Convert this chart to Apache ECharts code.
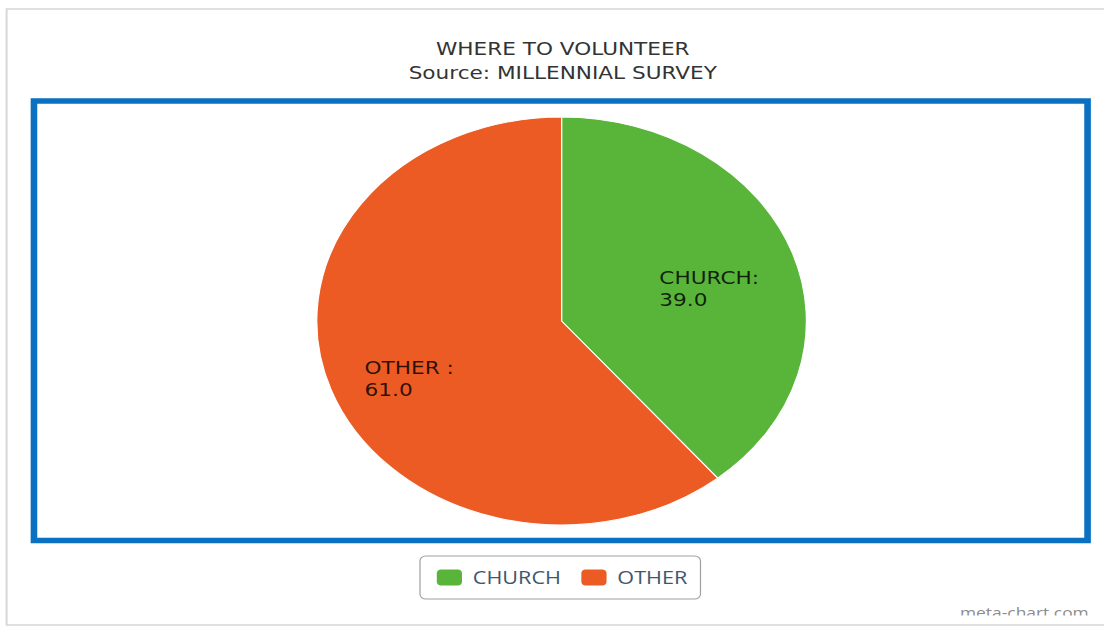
<!DOCTYPE html>
<html>
<head>
<meta charset="utf-8">
<script src="https://cdn.jsdelivr.net/npm/echarts@6/dist/echarts.min.js"></script>
<style>
html,body{margin:0;padding:0;background:#fff;overflow:hidden;width:1104px;height:628px;}
#chart{width:920px;height:628px;transform:scaleX(1.2);transform-origin:0 0;}
</style>
</head>
<body>
<div id="chart"></div>
<script>
// Data
const categories = ['CHURCH', 'OTHER'];
const values = [39.0, 61.0];
const labelNames = ['CHURCH:', 'OTHER :'];
const colors = ['#58b53a', '#eb5b23'];
const titleLines = ['WHERE TO VOLUNTEER', 'Source: MILLENNIAL SURVEY'];
const creditText = 'meta-chart.com';

const CX = 468, CY = 321, R = 204;

const chart = echarts.init(document.getElementById('chart'), null, {renderer: 'svg'});
chart.setOption({
  backgroundColor: '#fff',
  animation: false,
  color: colors,
  title: {
    text: titleLines.join('\n'),
    left: 464,
    textAlign: 'center',
    top: 32,
    textStyle: {
      color: '#333',
      fontFamily: 'DejaVu Sans',
      fontWeight: 'normal',
      fontSize: 18,
      lineHeight: 24
    }
  },
  legend: {
    data: categories,
    left: 350,
    top: 556,
    orient: 'horizontal',
    icon: 'roundRect',
    itemWidth: 23,
    itemHeight: 18,
    itemGap: 15,
    padding: [11.5, 11, 11.5, 12],
    borderColor: '#a0a0a0',
    borderWidth: 1,
    borderRadius: 5,
    textStyle: {
      color: '#3e576f',
      fontFamily: 'Open Sans',
      fontSize: 18,
      padding: [0, 0, 0, 3]
    }
  },
  graphic: [
    {type: 'rect', silent: true, z: -10,
     shape: {x: 5.5, y: 9, width: 940, height: 616},
     style: {fill: 'none', stroke: '#d6d6d6', lineWidth: 1.6}},
    {type: 'rect', silent: true, z: 10,
     shape: {x: 28.3, y: 101, width: 878, height: 439.5},
     style: {fill: 'none', stroke: '#0a70c2', lineWidth: 5.5}},
    {type: 'text', silent: true, z: 5,
     left: 800, top: 605,
     style: {text: creditText, fill: '#8c8c8c', fontFamily: 'Open Sans', fontSize: 14.5}},
    {type: 'rect', silent: true, z: 6,
     shape: {x: 780, y: 615.5, width: 160, height: 8.5},
     style: {fill: '#fff'}}
  ],
  series: [{
    type: 'pie',
    center: [CX, CY],
    radius: [0, R],
    startAngle: 90,
    clockwise: true,
    silent: true,
    itemStyle: {borderColor: '#fff', borderWidth: 1},
    data: categories.map((c, i) => ({name: c, value: values[i]})),
    label: {
      show: true,
      position: 'inside',
      formatter: p => labelNames[p.dataIndex] + '\n' + values[p.dataIndex].toFixed(1),
      color: 'rgba(0,0,0,0.82)',
      fontFamily: 'DejaVu Sans',
      fontSize: 18,
      lineHeight: 22
    },
    labelLine: {show: false},
    labelLayout: function (params) {
      const r = params.labelRect;
      const mx = r.x + r.width / 2 - CX;
      const my = r.y + r.height / 2 - CY;
      const k = 1.265;
      return {
        x: CX + mx * k - r.width / 2 - 2,
        y: CY + my * k + 13,
        align: 'left',
        verticalAlign: 'middle'
      };
    }
  }]
});
</script>
</body>
</html>
